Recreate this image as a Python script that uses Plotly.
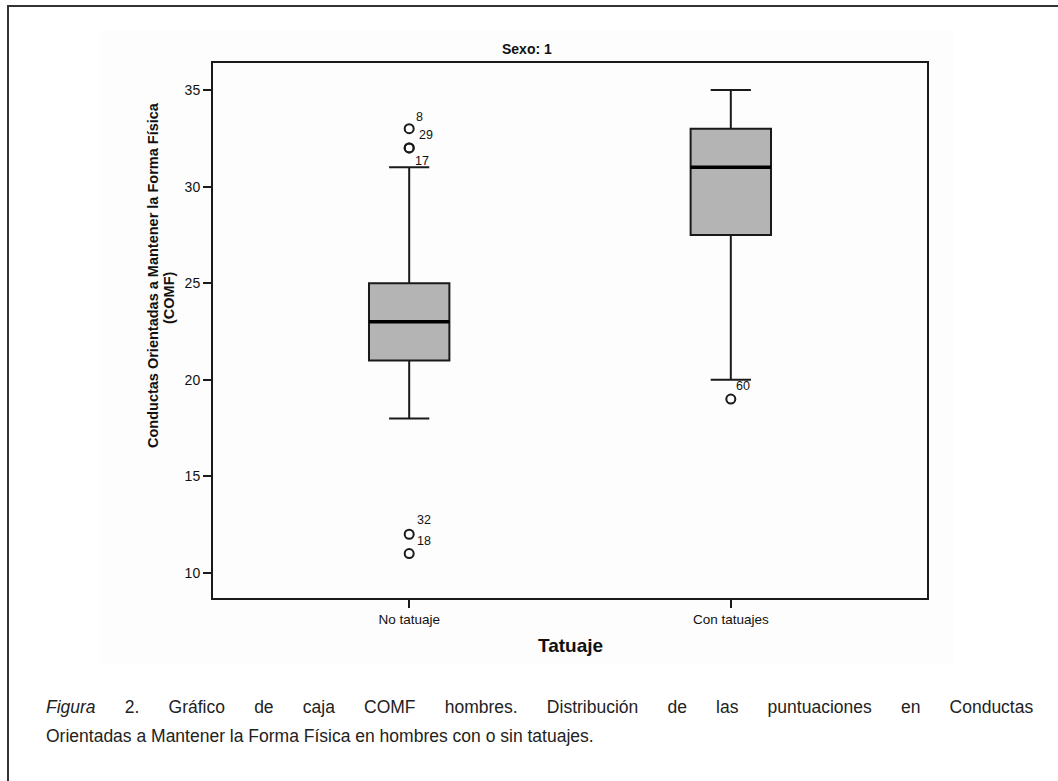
import plotly.graph_objects as go

# Categories and box statistics (COMF scores, men)
categories = ["No tatuaje", "Con tatuajes"]
q1 = [21, 27.5]
medians = [23, 31]
q3 = [25, 33]
lower_whisker = [18, 20]
upper_whisker = [31, 35]

# Outliers: category index, value, case number
outlier_cat = [0, 0, 0, 0, 0, 1]
outlier_val = [33, 32, 32, 12, 11, 19]
outlier_case = ["8", "29", "17", "32", "18", "60"]

y_ticks = [10, 15, 20, 25, 30, 35]

W, H = 1058, 781
ML, MR, MT, MB = 213, 131, 63, 183
PW, PH = W - ML - MR, H - MT - MB


def px(x):
    return (x - ML) / PW


def py(y):
    return (H - MB - y) / PH


LINE = "#1a1a1a"
BOX_FILL = "#b4b4b4"
BG = "#ebebeb"
FONT = "Liberation Sans, Arial, sans-serif"

fig = go.Figure()

box_w = 0.25
for i, cat in enumerate(categories):
    fig.add_trace(go.Box(
        x=[i], q1=[q1[i]], median=[medians[i]], q3=[q3[i]],
        lowerfence=[lower_whisker[i]], upperfence=[upper_whisker[i]],
        width=box_w, whiskerwidth=0.5, boxpoints=False,
        fillcolor=BOX_FILL, line=dict(color=LINE, width=2),
        showlegend=False, hoverinfo="skip",
    ))
    # heavier median bar
    fig.add_trace(go.Scatter(
        x=[i - box_w / 2, i + box_w / 2], y=[medians[i], medians[i]],
        mode="lines", line=dict(color="#000000", width=3.5),
        showlegend=False, hoverinfo="skip",
    ))

fig.add_trace(go.Scatter(
    x=outlier_cat, y=outlier_val, mode="markers",
    marker=dict(symbol="circle-open", size=9, color=LINE, line=dict(width=2)),
    showlegend=False, hoverinfo="skip",
))

# label offsets (pixels) for each case number
label_dx = [10, 17, 13, 15, 15, 12]
label_dy = [12, 13, -13, 14, 13, 13]
for c, v, t, dx, dy in zip(outlier_cat, outlier_val, outlier_case, label_dx, label_dy):
    fig.add_annotation(x=c, y=v, text=t, showarrow=False, xshift=dx, yshift=dy,
                       font=dict(family=FONT, size=12.5, color="#111"))

annotations_text = [
    dict(text="<b>Sexo: 1</b>", x=px(527), y=py(49), size=14),
    dict(text="<b>Tatuaje</b>", x=px(570), y=py(645), size=19),
]
for a in annotations_text:
    fig.add_annotation(xref="paper", yref="paper", x=a["x"], y=a["y"], text=a["text"],
                       showarrow=False, xanchor="center", yanchor="middle",
                       font=dict(family=FONT, size=a["size"], color="#111"))

# rotated y-axis title
fig.add_annotation(xref="paper", yref="paper", x=px(153), y=py(275), textangle=-90,
                   text="<b>Conductas Orientadas a Mantener la Forma Física</b>",
                   showarrow=False, xanchor="center", yanchor="middle",
                   font=dict(family=FONT, size=14.5, color="#111"))
fig.add_annotation(xref="paper", yref="paper", x=px(169), y=py(298), textangle=-90,
                   text="<b>(COMF)</b>",
                   showarrow=False, xanchor="center", yanchor="middle",
                   font=dict(family=FONT, size=14.5, color="#111"))

# caption; the first line is justified by widening its word gaps
gap = " " + "\u00a0" * 5
cap1_words = ["<i>Figura</i>", "2.", "Gráfico", "de", "caja", "COMF", "hombres.",
              "Distribución", "de", "las", "puntuaciones", "en", "Conductas"]
cap1 = gap.join(cap1_words)
cap2 = "Orientadas a Mantener la Forma Física en hombres con o sin tatuajes."
for txt, yy in [(cap1, 707), (cap2, 736)]:
    fig.add_annotation(xref="paper", yref="paper", x=px(44), y=py(yy), text=txt,
                       showarrow=False, xanchor="left", yanchor="middle",
                       font=dict(family=FONT, size=17.5, color="#222"))

# faint chart canvas behind the plot, and the frame around the figure
fig.add_shape(type="rect", xref="paper", yref="paper", layer="below",
              x0=px(100), x1=px(953), y0=py(30), y1=py(665),
              line=dict(width=0), fillcolor="#fdfdfd")
fig.add_shape(type="rect", xref="paper", yref="paper",
              x0=px(8), x1=px(1075), y0=py(6), y1=py(800),
              line=dict(color="#333", width=2), fillcolor="rgba(0,0,0,0)")

fig.update_layout(
    width=W, height=H,
    margin=dict(l=ML, r=MR, t=MT, b=MB),
    paper_bgcolor="white", plot_bgcolor=BG,
    xaxis=dict(range=[-0.61, 1.61], tickvals=list(range(len(categories))), ticktext=categories,
               ticks="outside", ticklen=8, tickwidth=2, tickcolor=LINE,
               showline=True, linewidth=2, linecolor=LINE, mirror=True,
               showgrid=False, zeroline=False,
               tickfont=dict(family=FONT, size=13.5, color="#111")),
    yaxis=dict(range=[8.7, 36.4], tickvals=y_ticks,
               ticks="outside", ticklen=8, tickwidth=2, tickcolor=LINE,
               showline=True, linewidth=2, linecolor=LINE, mirror=True,
               showgrid=False, zeroline=False,
               tickfont=dict(family=FONT, size=14, color="#111")),
)

fig.write_html("out.html")
